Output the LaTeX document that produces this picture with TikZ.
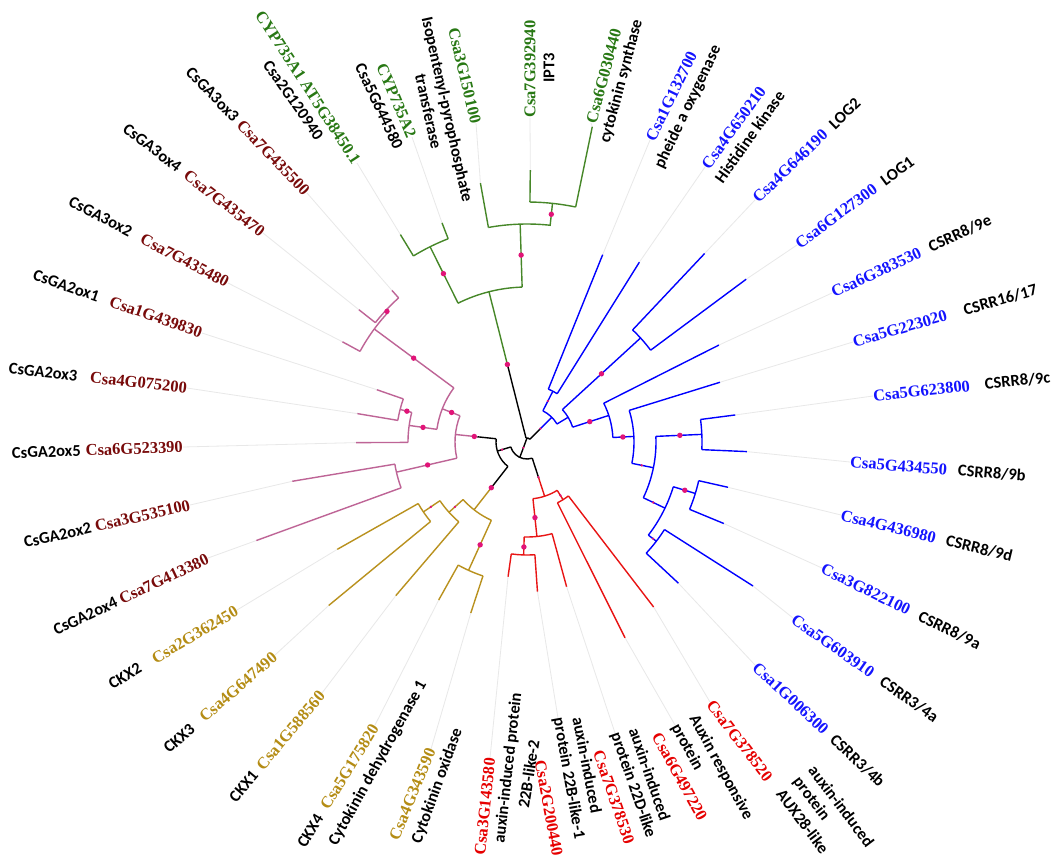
\documentclass[tikz,border=0pt]{standalone}
\usepackage{fontspec}
\setmainfont{Liberation Serif}
\newfontfamily\serfont{Liberation Serif}
\newfontfamily\calfont{Carlito}
\usetikzlibrary{backgrounds}
\definecolor{grn}{RGB}{70,135,40}
\definecolor{grnT}{RGB}{40,120,20}
\definecolor{blu}{RGB}{0,0,255}
\definecolor{bluT}{RGB}{20,20,255}
\definecolor{rd}{RGB}{232,20,20}
\definecolor{rdT}{RGB}{230,0,0}
\definecolor{pnk}{RGB}{190,100,150}
\definecolor{mar}{RGB}{120,10,10}
\definecolor{gld}{RGB}{185,145,30}
\definecolor{gldT}{RGB}{180,140,20}
\definecolor{dotc}{RGB}{225,20,120}
\newcommand\idf{\serfont\bfseries\fontsize{16.5}{19}\selectfont}
\newcommand\nmf{\calfont\bfseries\fontsize{16.5}{19}\selectfont}
\newcommand\tstem[5][]{\coordinate (#2b) at (#3:#4);\coordinate (#2) at (#3:#5);\draw[br,#1] (#2b) -- (#2);}
\newcommand\tarc[4][]{\draw[br,#1] (#2:#4) arc[start angle=#2,end angle=#3,radius=#4pt];}
\newcommand\bdot[2]{\fill[dotc] (#1:#2) circle[radius=2.7pt];}
\newcommand\sdot[2]{\fill[dotc] (#1:#2) circle[radius=1.3pt];}
\tikzset{
  br/.style={line width=1.4pt, line join=round},
  idn/.style={inner sep=0pt, font=\idf},
  nmn/.style={inner sep=0pt, font=\nmf},
  guide/.style={draw=black!9, line width=0.8pt},
}
\begin{document}
\begin{tikzpicture}[x=1pt,y=1pt]
\useasboundingbox (0,0) rectangle (1052,-857);
\begin{pgfonlayer}{background}
\fill[white] (0,0) rectangle (1052,-857);
\end{pgfonlayer}
\begin{scope}[shift={(527,-442)}]
% root region
\coordinate (X1) at (0,4);
\coordinate (R) at (245:17);
\draw[br] (45:4) arc[start angle=45,end angle=104.2,radius=4pt];
\draw[br] (X1) -- (R);
\draw[br] (197:17) arc[start angle=197,end angle=288,radius=17pt];
\tstem{xX2}{197}{17}{31}
\draw[br] (174:31) arc[start angle=174,end angle=232,radius=31pt];
\fill[dotc] (-3.6,-5.7) circle[radius=1.3pt];
\sdot{197}{26}
% green
\tstem{gBlow}{104.2}{4}{80}
\tstem[grn]{gB}{104.2}{80}{155}
\tarc[grn]{91.8}{116.4}{155}
\tstem[grn]{gA}{116.4}{155}{218}
\tarc[grn]{111.2}{121.4}{218}
\tstem[grn]{tG1}{121.4}{218}{243}
\tstem[grn]{tG2}{111.2}{218}{235}
\tstem[grn]{gC}{91.8}{155}{218}
\tarc[grn]{83.7}{100.2}{218}
\tstem[grn]{tG3}{100.2}{218}{263}
\tstem[grn]{gD}{83.9}{218}{240}
\tarc[grn]{78.3}{89.3}{240}
\tstem[grn]{tG4}{89.3}{240}{272}
\tstem[grn]{tG5}{78.3}{240}{322}
\bdot{104.2}{80}\bdot{116.4}{188}\bdot{91.8}{187}\bdot{83.9}{229}
% blue
\tstem{bBlow}{45}{4}{18}
\tstem[blu]{bB0}{45}{18}{35}
\tarc[blu]{31}{63}{35}
\tstem[blu]{bB1}{63}{35}{57}
\tarc[blu]{58}{68}{57}
\tstem[blu]{tB1}{68}{57}{202}
\tstem[blu]{tB2}{58}{57}{212}
\tstem[blu]{bB2}{31}{35}{48}
\tarc[blu]{18}{42.5}{48}
\tstem[blu]{bB3}{42.5}{48}{154}
\tarc[blu]{36.6}{46.7}{154}
\tstem[blu]{tB3}{46.7}{154}{259}
\tstem[blu]{tB4}{36.6}{154}{273}
\tstem[blu]{bB4}{18}{48}{86}
\tarc[blu]{3}{26.8}{86}
\tstem[blu]{tB5}{26.8}{86}{215}
\tstem[blu]{bB5}{3}{86}{107}
\tarc[blu]{-11.5}{17.2}{107}
\tstem[blu]{tB6}{17.2}{107}{202}
\tstem[blu]{bB6}{-11.5}{107}{129}
\tarc[blu]{-25.6}{2.5}{129}
\tstem[blu]{bB7}{2.5}{129}{175}
\tarc[blu]{-2.5}{7.4}{175}
\tstem[blu]{tB7}{7.4}{175}{210}
\tstem[blu]{tB8}{-2.5}{175}{220}
\tstem[blu]{bB8}{-25.6}{129}{153}
\tarc[blu]{-37.5}{-17}{153}
\tstem[blu]{bB9}{-17}{153}{176}
\tarc[blu]{-22.5}{-12.7}{176}
\tstem[blu]{tB9}{-12.7}{176}{206}
\tstem[blu]{tB10}{-22.5}{176}{213}
\tstem[blu]{bB10}{-37.5}{153}{163}
\tarc[blu]{-43}{-32.5}{163}
\tstem[blu]{tB11}{-32.5}{163}{268}
\tstem[blu]{tB12}{-43}{163}{207}
\sdot{45}{19}\sdot{63}{46}\bdot{42.5}{101}\bdot{18}{66}\bdot{3}{96}\sdot{-11.5}{117}
\bdot{2.5}{153}\sdot{-25.6}{140}\bdot{-17}{165}\sdot{-37.5}{159}
% red
\tstem{rLow}{288}{17}{38}
\tstem[rd]{rR0}{288}{38}{57}
\tarc[rd]{276}{302}{57}
\tstem[rd]{rR1}{276}{57}{95}
\tarc[rd]{268.3}{285.3}{95}
\tstem[rd]{rR2}{268.3}{95}{113}
\tarc[rd]{262}{274}{113}
\tstem[rd]{tR5}{262}{113}{136}
\tstem[rd]{tR4}{274}{113}{150}
\tstem[rd]{tR3}{285.3}{95}{150}
\tstem[rd]{rR3}{302}{57}{68}
\tarc[rd]{296.6}{307.5}{68}
\tstem[rd]{tR2}{296.6}{68}{219}
\tstem[rd]{tR1}{307.5}{68}{208}
\sdot{288}{37}\bdot{276}{76}\bdot{268.3}{105}\sdot{302}{63}
% pink
\tstem{pLow}{174}{31}{50}
\tstem[pnk]{pP}{174}{50}{72}
\tarc[pnk]{158.6}{193}{72}
\tstem[pnk]{pP1}{158.6}{72}{91}
\tarc[pnk]{143.5}{172}{91}
\tstem[pnk]{pPA}{143.5}{91}{190}
\tarc[pnk]{137}{151.5}{190}
\tstem[pnk]{tP6}{151.5}{190}{210}
\tstem[pnk]{pPB}{137}{190}{193}
\tarc[pnk]{131.7}{141.8}{193}
\tstem[pnk]{tP8}{131.7}{193}{203}
\tstem[pnk]{tP7}{141.8}{193}{214}
\tstem[pnk]{pP2}{172}{91}{119}
\tarc[pnk]{165.6}{180.2}{119}
\tstem[pnk]{pP3}{165.6}{119}{131}
\tarc[pnk]{160.8}{170.5}{131}
\tstem[pnk]{tP5}{160.8}{131}{159}
\tstem[pnk]{tP4}{170.5}{131}{172}
\tstem[pnk]{tP3}{180.2}{119}{171}
\tstem[pnk]{pP4}{193}{72}{134}
\tarc[pnk]{189.5}{200}{134}
\tstem[pnk]{tP2}{189.5}{134}{238}
\tstem[pnk]{tP1}{200}{134}{288}
\bdot{174}{53}\bdot{158.6}{81}\bdot{143.5}{141}\bdot{137}{191.5}\bdot{172}{105}\bdot{165.6}{124}\bdot{193}{102}
% gold
\tstem{yLow}{232}{31}{58}
\tstem[gld]{yY0}{232}{58}{86}
\tarc[gld]{222}{245.5}{86}
\tstem[gld]{yY1}{222}{86}{105}
\tarc[gld]{214}{229.5}{105}
\tstem[gld]{yY2}{214}{105}{125}
\tarc[gld]{209.5}{219.5}{125}
\tstem[gld]{tY5}{209.5}{125}{218}
\tstem[gld]{tY4}{219.5}{125}{257}
\tstem[gld]{tY3}{229.5}{105}{202}
\tstem[gld]{yY3}{245.5}{86}{141}
\tarc[gld]{240.8}{251.8}{141}
\tstem[gld]{tY2}{240.8}{141}{181}
\tstem[gld]{tY1}{251.8}{141}{180}
\bdot{232}{58}\sdot{222}{97}\sdot{214}{116}\bdot{245.5}{113}
\end{scope}
% ---------- labels: green
\node[idn, text=grnT, rotate=-57, anchor=east] (lG1a) at (357,-163) {CYP735A1 AT5G38450.1};
\node[nmn, rotate=-55, anchor=east] (lG1b) at (320,-138) {Csa2G120940};
\node[idn, text=grnT, rotate=-67, anchor=east] (lG2a) at (412,-137) {CYP735A2};
\node[nmn, rotate=-65, anchor=east] (lG2b) at (399,-148) {Csa5G644580};
\node[idn, text=grnT, rotate=-76.5, anchor=east] (lG3a) at (476,-123) {Csa3G150100};
\node[nmn, rotate=-77.5, anchor=east] (lG3b) at (467,-202) {Isopentenyl-pyrophosphate};
\node[nmn, rotate=-77.5, anchor=east] (lG3c) at (437,-149) {transferase};
\node[idn, text=grnT, rotate=90, anchor=west] (lG4a) at (530,-118) {Csa7G392940};
\node[nmn, rotate=90, anchor=west] (lG4b) at (549,-83) {IPT3};
\node[idn, text=grnT, rotate=75, anchor=west] (lG5a) at (591,-123) {Csa6G030440};
\node[nmn, rotate=75, anchor=west] (lG5b) at (605,-143) {cytokinin synthase};
% blue
\node[idn, text=bluT, rotate=64, anchor=west] (lB1a) at (650,-140) {Csa1G132700};
\node[nmn, rotate=64.5, anchor=west] (lB1b) at (659,-168) {pheide a oxygenase};
\node[idn, text=bluT, rotate=54, anchor=west] (lB2a) at (705,-167) {Csa4G650210};
\node[nmn, rotate=54.5, anchor=west] (lB2b) at (718,-181) {Histidine kinase};
\node[nmn, rotate=44, anchor=west] (lB3) at (755,-200) {{\idf\color{bluT}Csa4G646190}\hspace{9pt}LOG2};
\node[nmn, rotate=36.5, anchor=west] (lB4) at (797,-245) {{\idf\color{bluT}Csa6G127300}\hspace{9pt}LOG1};
\node[nmn, rotate=25, anchor=west] (lB5) at (832,-293) {{\idf\color{bluT}Csa6G383530}\hspace{10pt}CSRR8/9e};
\node[nmn, rotate=16, anchor=west] (lB6) at (853,-342) {{\idf\color{bluT}Csa5G223020}\hspace{18pt}CSRR16/17};
\node[nmn, rotate=6, anchor=west] (lB7) at (873,-396) {{\idf\color{bluT}Csa5G623800}\hspace{15pt}CSRR8/9c};
\node[nmn, rotate=-4.5, anchor=west] (lB8) at (850,-462) {{\idf\color{bluT}Csa5G434550}\hspace{11pt}CSRR8/9b};
\node[nmn, rotate=-13.6, anchor=west] (lB9) at (841,-515) {{\idf\color{bluT}Csa4G436980}\hspace{11pt}CSRR8/9d};
\node[nmn, rotate=-26, anchor=west] (lB10) at (822,-568) {{\idf\color{bluT}Csa3G822100}\hspace{11pt}CSRR8/9a};
\node[nmn, rotate=-35, anchor=west] (lB11) at (793,-618) {{\idf\color{bluT}Csa5G603910}\hspace{11pt}CSRR3/4a};
\node[nmn, rotate=-43, anchor=west] (lB12) at (755,-665) {{\idf\color{bluT}Csa1G006300}\hspace{9pt}CSRR3/4b};
% red
\node[idn, text=rdT, rotate=-52.6, anchor=west] (lR1a) at (710,-702) {Csa7G378520};
\node[nmn, rotate=-53, anchor=west] (lR1b) at (812,-767) {auxin-induced};
\node[nmn, rotate=-53, anchor=west] (lR1c) at (796,-779) {protein};
\node[nmn, rotate=-53, anchor=west] (lR1d) at (780,-791) {AUX28-like};
\node[nmn, rotate=-61.5, anchor=west] (lR2a) at (693,-716) {Auxin responsive};
\node[nmn, rotate=-61.5, anchor=west] (lR2b) at (675,-725) {protein};
\node[idn, text=rdT, rotate=-61, anchor=west] (lR2c) at (656,-734) {Csa6G497220};
\node[nmn, rotate=-71, anchor=west] (lR3a) at (634,-728) {auxin-induced};
\node[nmn, rotate=-71, anchor=west] (lR3b) at (615,-733) {protein 22D-like};
\node[idn, text=rdT, rotate=-71, anchor=west] (lR3c) at (598,-751) {Csa7G378530};
\node[nmn, rotate=-79, anchor=west] (lR4a) at (578,-717) {auxin-induced};
\node[nmn, rotate=-80, anchor=west] (lR4b) at (558,-718) {protein 22B-like-1};
\node[idn, text=rdT, rotate=-79.5, anchor=west] (lR4c) at (540,-760) {Csa2G200440};
\node[idn, text=rdT, rotate=84, anchor=east] (lR5a) at (490,-758) {Csa3G143580};
\node[nmn, rotate=83.5, anchor=east] (lR5b) at (517,-693) {auxin-induced protein};
\node[nmn, rotate=81, anchor=east] (lR5c) at (534,-740) {22B-like-2};
% gold
\node[idn, text=gldT, rotate=67.5, anchor=east] (lY1a) at (431,-749) {Csa4G343590};
\node[nmn, rotate=70, anchor=east] (lY1b) at (458,-729) {Cytokinin oxidase};
\node[nmn, rotate=58.5, anchor=east] (lY2a) at (375,-725) {CKX4\hspace{9pt}{\idf\color{gldT}Csa5G175820}};
\node[nmn, rotate=61, anchor=east] (lY2b) at (423,-682) {Cytokinin dehydrogenase 1};
\node[nmn, rotate=50, anchor=east] (lY3) at (322,-693) {CKX1\hspace{7pt}{\idf\color{gldT}Csa1G588560}};
\node[nmn, rotate=41, anchor=east] (lY4) at (275,-655) {CKX3\hspace{12pt}{\idf\color{gldT}Csa4G647490}};
\node[nmn, rotate=30.5, anchor=east] (lY5) at (237,-610) {CKX2\hspace{15pt}{\idf\color{gldT}Csa2G362450}};
% pink
\node[nmn, rotate=25.3, anchor=east] (lP1) at (208,-558) {CsGA2ox4\hspace{4pt}{\idf\color{mar}Csa7G413380}};
\node[nmn, rotate=12.8, anchor=east] (lP2) at (190,-505) {CsGA2ox2\hspace{4pt}{\idf\color{mar}Csa3G535100}};
\node[nmn, rotate=2, anchor=east] (lP3) at (183,-447) {CsGA2ox5\hspace{5pt}{\idf\color{mar}Csa6G523390}};
\node[nmn, rotate=-6.3, anchor=east] (lP4) at (187,-388) {CsGA2ox3\hspace{13pt}{\idf\color{mar}Csa4G075200}};
\node[nmn, rotate=-19.2, anchor=east] (lP5) at (202,-333) {CsGA2ox1\hspace{12pt}{\idf\color{mar}Csa1G439830}};
\node[nmn, rotate=-27.6, anchor=east] (lP6) at (228,-283) {CsGA3ox2\hspace{12pt}{\idf\color{mar}Csa7G435480}};
\node[nmn, rotate=-37.6, anchor=east] (lP7) at (263,-233) {CsGA3ox4\hspace{8pt}{\idf\color{mar}Csa7G435470}};
\node[nmn, rotate=-46.3, anchor=east] (lP8) at (307,-193) {CsGA3ox3\hspace{5pt}{\idf\color{mar}Csa7G435500}};
% guides
\begin{pgfonlayer}{background}
\draw[guide] (tG1) -- (lG1a.east);
\draw[guide] (tG2) -- (lG2a.east);
\draw[guide] (tG3) -- (lG3a.east);
\draw[guide] (tG4) -- (lG4a.west);
\draw[guide] (tG5) -- (lG5a.west);
\draw[guide] (tB1) -- (lB1a.west);
\draw[guide] (tB2) -- (lB2a.west);
\draw[guide] (tB3) -- (lB3.west);
\draw[guide] (tB4) -- (lB4.west);
\draw[guide] (tB5) -- (lB5.west);
\draw[guide] (tB6) -- (lB6.west);
\draw[guide] (tB7) -- (lB7.west);
\draw[guide] (tB8) -- (lB8.west);
\draw[guide] (tB9) -- (lB9.west);
\draw[guide] (tB10) -- (lB10.west);
\draw[guide] (tB11) -- (lB11.west);
\draw[guide] (tB12) -- (lB12.west);
\draw[guide] (tR1) -- (lR1a.west);
\draw[guide] (tR2) -- (lR2b.west);
\draw[guide] (tR3) -- (lR3b.west);
\draw[guide] (tR4) -- (lR4b.west);
\draw[guide] (tR5) -- (lR5a.east);
\draw[guide] (tY1) -- (lY1a.east);
\draw[guide] (tY2) -- (lY2a.east);
\draw[guide] (tY3) -- (lY3.east);
\draw[guide] (tY4) -- (lY4.east);
\draw[guide] (tY5) -- (lY5.east);
\draw[guide] (tP1) -- (lP1.east);
\draw[guide] (tP2) -- (lP2.east);
\draw[guide] (tP3) -- (lP3.east);
\draw[guide] (tP4) -- (lP4.east);
\draw[guide] (tP5) -- (lP5.east);
\draw[guide] (tP6) -- (lP6.east);
\draw[guide] (tP7) -- (lP7.east);
\draw[guide] (tP8) -- (lP8.east);
\end{pgfonlayer}
\end{tikzpicture}
\end{document}
